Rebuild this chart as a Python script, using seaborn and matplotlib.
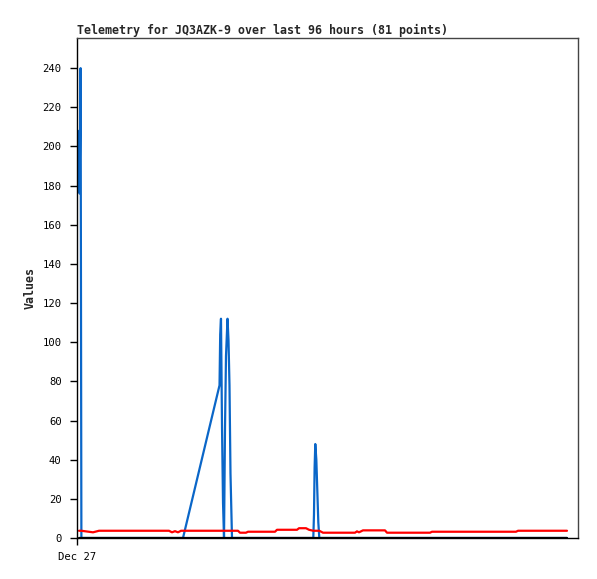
import pandas as pd
import seaborn as sns
import matplotlib as mpl
import matplotlib.pyplot as plt

sns.set_style("ticks")
mpl.rcParams['font.family'] = ['DejaVu Sans Mono']

# hours since the start of the window (Dec 27)
hours = [0.38, 0.50, 0.69, 0.84, 3.07, 4.22, 5.56, 6.90, 8.24, 9.58,
         10.92, 12.26, 13.60, 14.95, 16.29, 17.63, 18.20, 18.78, 19.35, 19.93,
         20.31, 27.31, 27.44, 27.59, 27.79, 27.98, 28.17, 28.36, 28.55, 28.84,
         29.03, 29.22, 29.41, 29.70, 30.85, 31.23, 32.38, 32.77, 34.11, 35.45,
         36.79, 37.94, 38.32, 39.67, 41.01, 42.16, 42.54, 43.88, 44.46, 45.28,
         45.41, 45.53, 45.66, 45.86, 46.05, 46.24, 46.43, 47.14, 48.48, 49.82,
         51.16, 52.50, 53.27, 53.65, 54.03, 54.42, 54.80, 56.14, 57.49, 59.02,
         59.40, 60.74, 62.09, 63.43, 64.77, 66.11, 67.64, 68.03, 84.12, 84.51,
         93.89]

blue_vals = [208, 176, 240, 0, 0, 0, 0, 0, 0, 0,
             0, 0, 0, 0, 0, 0, 0, 0, 0, 0,
             0, 78, 104, 112, 56, 18, 0, 56, 93, 112,
             101, 78, 33, 0, 0, 0, 0, 0, 0, 0,
             0, 0, 0, 0, 0, 0, 0, 0, 0, 0,
             12, 36, 48, 40, 24, 8, 0, 0, 0, 0,
             0, 0, 0, 0, 0, 0, 0, 0, 0, 0,
             0, 0, 0, 0, 0, 0, 0, 0, 0, 0,
             0]

red_vals = [3.7, 3.7, 3.7, 3.7, 2.9, 3.7, 3.7, 3.7, 3.7, 3.7,
            3.7, 3.7, 3.7, 3.7, 3.7, 3.7, 2.9, 3.5, 2.9, 3.7,
            3.7, 3.7, 3.7, 3.7, 3.7, 3.7, 3.7, 3.7, 3.7, 3.7,
            3.7, 3.7, 3.7, 3.7, 3.7, 2.7, 2.7, 3.2, 3.2, 3.2,
            3.2, 3.2, 4.2, 4.2, 4.2, 4.2, 5.0, 5.0, 4.2, 3.7,
            3.7, 3.7, 3.7, 3.7, 3.7, 3.7, 3.7, 2.7, 2.7, 2.7,
            2.7, 2.7, 2.7, 3.4, 2.9, 3.4, 3.9, 3.9, 3.9, 3.9,
            2.7, 2.7, 2.7, 2.7, 2.7, 2.7, 2.7, 3.2, 3.2, 3.7,
            3.7]

black_vals = [0] * len(hours)

df = pd.concat([
    pd.DataFrame({"hours": hours, "value": blue_vals, "series": "blue"}),
    pd.DataFrame({"hours": hours, "value": red_vals, "series": "red"}),
    pd.DataFrame({"hours": hours, "value": black_vals, "series": "black"}),
])

fig = plt.figure(figsize=(5.97, 5.79), dpi=100)
ax = fig.add_axes([77 / 597, 1 - 538 / 579, 501 / 597, 500 / 579])

sns.lineplot(data=df, x="hours", y="value", hue="series",
             palette={"blue": "#0a66c8", "red": "#ff0000", "black": "#000000"},
             estimator=None, sort=False, linewidth=1.6, legend=False, ax=ax)

ax.set_xlim(0, 96)
ax.set_ylim(0, 255.4)
ax.set_yticks(range(0, 241, 20))
ax.set_xticks([0])
ax.set_xticklabels(["Dec 27"])
ax.tick_params(axis="both", direction="out", length=5, width=1, pad=6,
               labelsize=7.6, colors="black")
ax.tick_params(axis="x", pad=5)

for side in ["top", "right"]:
    ax.spines[side].set_color("#444444")
    ax.spines[side].set_linewidth(1)
for side in ["left", "bottom"]:
    ax.spines[side].set_color("black")
    ax.spines[side].set_linewidth(1)

ax.set_xlabel("")
ax.set_ylabel("Values", fontsize=8.4, fontweight="bold", labelpad=4)
ax.set_title("Telemetry for JQ3AZK-9 over last 96 hours (81 points)",
             fontsize=8.4, fontweight="bold", loc="left", pad=3)

fig.savefig("out.png", dpi=100, facecolor="white")
